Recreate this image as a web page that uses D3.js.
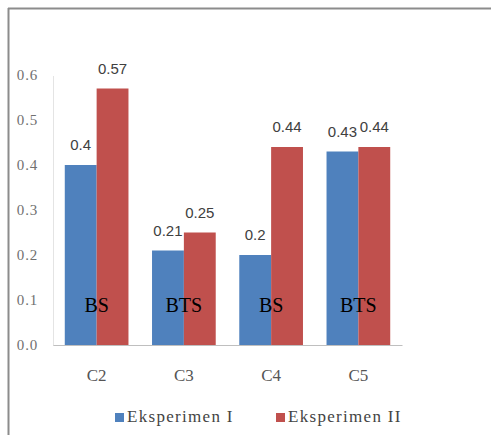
<!DOCTYPE html>
<html>
<head>
<meta charset="utf-8">
<script src="https://cdn.jsdelivr.net/npm/d3@7"></script>
<style>
  html, body { margin: 0; padding: 0; background: #fff; }
  svg { display: block; }
</style>
</head>
<body>
<div id="chart"></div>
<script>
// Chart data
const categories = ["C2", "C3", "C4", "C5"];
const seriesNames = ["Eksperimen I", "Eksperimen II"];
const eksperimen1 = [0.4, 0.21, 0.2, 0.43];
const eksperimen2 = [0.57, 0.25, 0.44, 0.44];
const valueLabels1 = ["0.4", "0.21", "0.2", "0.43"];
const valueLabels2 = ["0.57", "0.25", "0.44", "0.44"];
const groupLabels = ["BS", "BTS", "BS", "BTS"];
const yTicks = [0, 0.1, 0.2, 0.3, 0.4, 0.5, 0.6];
const colors = ["#4F81BD", "#C0504D"];

const SERIF = "'Liberation Serif', 'Times New Roman', serif";
const SANS = "'Liberation Sans', Arial, sans-serif";

const W = 491, H = 435;
const svg = d3.select("#chart").append("svg").attr("width", W).attr("height", H);

// Outer frame (top and left edges)
svg.append("line").attr("x1", 8).attr("x2", W).attr("y1", 8.5).attr("y2", 8.5)
  .attr("stroke", "#8c8c8c").attr("stroke-width", 2);
svg.append("line").attr("x1", 8.5).attr("x2", 8.5).attr("y1", 8).attr("y2", H)
  .attr("stroke", "#8c8c8c").attr("stroke-width", 2);

const plot = { left: 53, right: 402, top: 75, bottom: 345 };

const x = d3.scaleBand().domain(categories).range([plot.left, plot.right]).paddingInner(0.27).paddingOuter(0.135);
const xs = d3.scaleBand().domain(seriesNames).range([0, x.bandwidth()]);
const y = d3.scaleLinear().domain([0, 0.6]).range([plot.bottom, plot.top]);

// Y axis
const yAxis = svg.append("g").attr("transform", `translate(${plot.left},0)`)
  .call(d3.axisLeft(y).tickValues(yTicks).tickFormat(d3.format(".1f")).tickSize(0).tickPadding(15));
yAxis.select(".domain").attr("stroke", "#c8c8c8").attr("stroke-dasharray", "1,1");
yAxis.selectAll("text").style("font-family", SERIF).style("font-size", "15px")
  .style("letter-spacing", "0.8px")
  .attr("fill", "#707070");

// Bars
const rows = categories.map((c, i) => ({ cat: c, vals: [eksperimen1[i], eksperimen2[i]], labs: [valueLabels1[i], valueLabels2[i]], grp: groupLabels[i] }));
const groups = svg.append("g").selectAll("g").data(rows).join("g")
  .attr("transform", d => `translate(${x(d.cat)},0)`);

groups.selectAll("rect").data(d => d.vals.map((v, k) => ({ v, k }))).join("rect")
  .attr("x", d => xs(seriesNames[d.k]))
  .attr("width", xs.bandwidth())
  .attr("y", d => y(d.v))
  .attr("height", d => y(0) - y(d.v))
  .attr("fill", d => colors[d.k]);

// Value labels above bars
groups.selectAll("text.val").data(d => d.vals.map((v, k) => ({ v, k, lab: d.labs[k] }))).join("text")
  .attr("class", "val")
  .attr("x", d => xs(seriesNames[d.k]) + xs.bandwidth() / 2)
  .attr("y", d => y(d.v) - 15)
  .attr("text-anchor", "middle")
  .style("font-family", SANS)
  .style("font-size", "15px")
  .attr("fill", "#404040")
  .text(d => d.lab);

// BS / BTS group labels
groups.append("text")
  .attr("x", x.bandwidth() / 2)
  .attr("y", 312)
  .attr("text-anchor", "middle")
  .style("font-family", SERIF)
  .style("font-size", "20px")
  .attr("fill", "#000")
  .text(d => d.grp);

// X axis
const xAxis = svg.append("g").attr("transform", `translate(0,${plot.bottom})`)
  .call(d3.axisBottom(x).tickSize(0).tickPadding(24).tickSizeOuter(0));
xAxis.select(".domain").attr("stroke", "#bfbfbf");
xAxis.selectAll("text").style("font-family", SERIF).style("font-size", "17px")
  .attr("fill", "#555");

// Legend
const legendX = [115, 276];
const legend = svg.append("g").selectAll("g").data(seriesNames).join("g")
  .attr("transform", (d, i) => `translate(${legendX[i]},413)`);
legend.append("rect").attr("width", 9).attr("height", 9).attr("fill", (d, i) => colors[i]);
legend.append("text").attr("x", 12).attr("y", 9)
  .style("font-family", SERIF).style("font-size", "17px")
  .style("letter-spacing", "1.3px")
  .attr("fill", "#444")
  .text(d => d);
</script>
</body>
</html>
